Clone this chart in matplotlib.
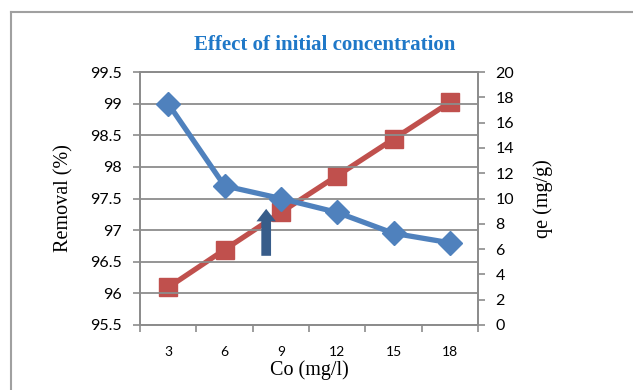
import matplotlib.pyplot as plt
from matplotlib.lines import Line2D

# Data
co = ["3", "6", "9", "12", "15", "18"]
removal = [99.0, 97.7, 97.5, 97.28, 96.95, 96.8]
qe = [2.97, 5.95, 8.9, 11.8, 14.7, 17.6]

blue = "#4F81BD"
red = "#C0504D"
grid_c = "#8C8C8C"

fig = plt.figure(figsize=(6.33, 3.9), dpi=100)
ax = fig.add_axes([140 / 633, 65 / 390, 338 / 633, 253 / 390])
ax2 = ax.twinx()

x = list(range(len(co)))

# frame around the chart
fig.add_artist(Line2D([11 / 633, 11 / 633], [0, 1 - 12 / 390], color="#A0A0A0", lw=1.5))
fig.add_artist(Line2D([11 / 633, 1], [1 - 12 / 390, 1 - 12 / 390], color="#A0A0A0", lw=1.5))

ax.set_ylim(95.5, 99.5)
ax.set_yticks([95.5, 96, 96.5, 97, 97.5, 98, 98.5, 99, 99.5])
ax.set_yticklabels(["95.5", "96", "96.5", "97", "97.5", "98", "98.5", "99", "99.5"])
ax.set_xlim(-0.5, 5.5)
ax.set_xticks(x)
ax.set_xticklabels(co)
ax.set_xticks([i - 0.5 for i in range(len(co) + 1)], minor=True)
ax.yaxis.grid(True, color=grid_c, lw=1.3)
ax.set_axisbelow(True)

ax.tick_params(axis="x", which="major", length=0, pad=15, labelsize=10)
ax.tick_params(axis="x", which="minor", length=5, width=1.2, color=grid_c, direction="out")
ax.tick_params(axis="y", length=5, width=1.2, color=grid_c, pad=8, labelsize=11.5)
for s in ax.spines.values():
    s.set_color(grid_c)
    s.set_linewidth(1.3)
for s in ax2.spines.values():
    s.set_color(grid_c)
    s.set_linewidth(1.3)

ax2.set_ylim(0, 20)
ax2.set_yticks(range(0, 21, 2))
ax2.tick_params(axis="y", length=5, width=1.2, color=grid_c, pad=7.5, labelsize=11.5)

for t in ax.get_yticklabels() + ax2.get_yticklabels() + ax.get_xticklabels():
    t.set_fontfamily("Lato")

ax.plot(x, removal, color=blue, lw=3.8, marker="D", markersize=12.5, zorder=3)
ax2.plot(x, qe, color=red, lw=3.8, marker="s", markersize=12.5, zorder=2)
ax.set_zorder(ax2.get_zorder() + 1)
ax.patch.set_visible(False)

# arrow marker near 9 mg/l
ax.annotate("", xy=(1.74, 97.38), xytext=(1.74, 96.55),
            arrowprops=dict(arrowstyle="simple,head_width=1.4,head_length=0.9,tail_width=0.7",
                            color="#385D8A", lw=0), zorder=5)

ax.set_ylabel("Removal (%)", fontfamily="Liberation Serif", fontsize=14.5, labelpad=12)
ax2.set_ylabel("qe (mg/g)", fontfamily="Liberation Serif", fontsize=14.5, labelpad=14)
ax.set_xlabel("Co (mg/l)", fontfamily="Liberation Serif", fontsize=14.5, labelpad=2)

fig.text(325 / 633, 1 - 45 / 390, "Effect of initial concentration", ha="center", va="center",
         fontfamily="Liberation Serif", fontweight="bold", fontsize=15, color="#1F78C8")

fig.savefig("out.png", dpi=100)
